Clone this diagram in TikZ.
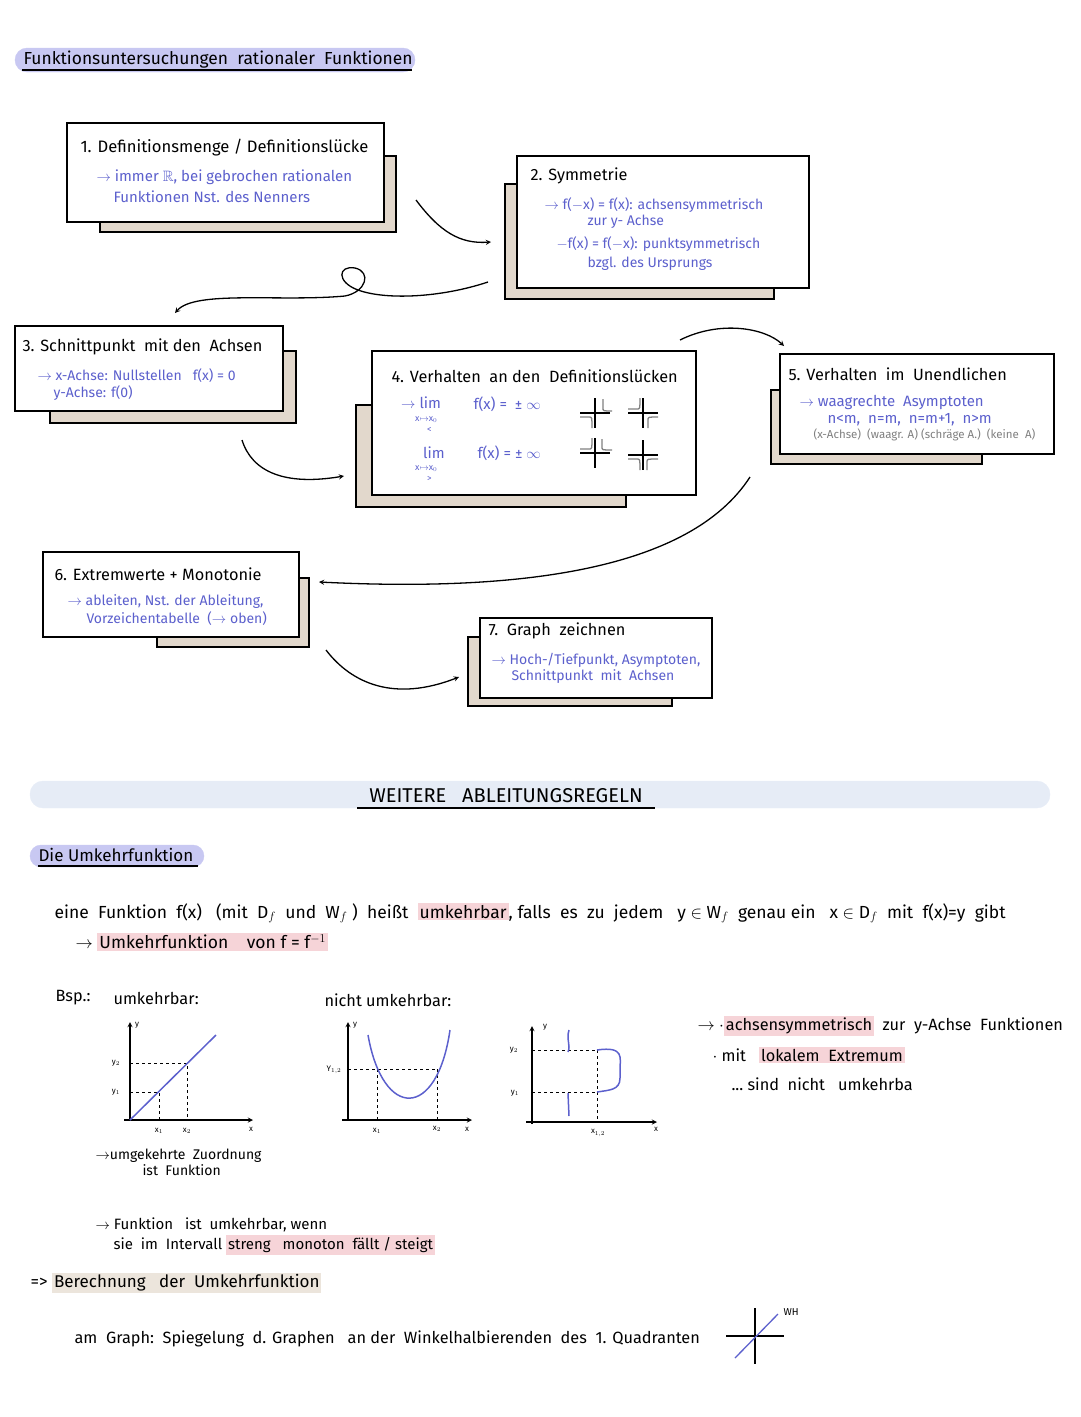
\documentclass[tikz,border=0pt]{standalone}
\usepackage{amsmath,amssymb}
\usepackage{fontspec}
\setmainfont{Fira Sans}
\usepackage{tikz}
\usetikzlibrary{arrows}

\definecolor{penblue}{RGB}{92,96,205}
\definecolor{shadowbeige}{RGB}{226,216,204}
\definecolor{lavender}{RGB}{200,200,242}
\definecolor{pinkhl}{RGB}{246,212,216}
\definecolor{beigehl}{RGB}{236,229,220}
\definecolor{bannerblue}{RGB}{230,236,246}
\newcommand{\hlpink}[1]{{\setlength{\fboxsep}{2pt}\colorbox{pinkhl}{#1}}}
\newcommand{\hlbeige}[1]{{\setlength{\fboxsep}{2pt}\colorbox{beigehl}{#1}}}

\begin{document}
\begin{tikzpicture}[x=1pt,y=-1pt,
    frontbox/.style={fill=white,draw=black,line width=1.6pt},
    shadowbox/.style={fill=shadowbeige,draw=black,line width=1.6pt},
    boxtitle/.style={anchor=west,font=\fontsize{16.3}{19}\selectfont},
    pen/.style={anchor=west,text=penblue,font=\fontsize{15}{17}\selectfont},
    smallpen/.style={anchor=west,text=penblue,font=\fontsize{14}{16}\selectfont},
    subpen/.style={anchor=west,text=penblue,inner sep=1pt,font=\fontsize{9}{10}\selectfont},
    faint/.style={anchor=west,text=gray,font=\fontsize{11.5}{13}\selectfont},
    plain/.style={anchor=west,font=\fontsize{16.3}{19}\selectfont},
    axlabel/.style={font=\fontsize{8}{9}\selectfont},
    flow/.style={line width=1.3pt,-stealth},
    axis/.style={line width=1.3pt,-stealth},
    guide/.style={dashed,line width=0.9pt},
    branch/.style={gray,line width=1.3pt}]
          \useasboundingbox (0,0) rectangle (1080,1417);
          % header
          \filldraw[lavender,rounded corners=12pt] (15,48) rectangle (415,72);
          \node[boxtitle,font=\fontsize{17.4}{20}\selectfont] (hdr) at (20,60) {Funktionsuntersuchungen\ \ rationaler\ \ Funktionen};
          \draw[line width=1.2pt] (22,70) -- (412,70);
          % 1. Definitionsmenge
          \filldraw[shadowbox] (100,156) rectangle (396,232);
          \filldraw[frontbox] (67,123) rectangle (384,222);
          \node[boxtitle,font=\fontsize{16.6}{19}\selectfont] (def) at (77,148) {1. Definitionsmenge / Definitionslücke};
          \node[pen] (defa) at (93,177) {$\rightarrow$ immer $\mathbb{R}$, bei gebrochen rationalen};
          \node[pen] (defb) at (110,197) {Funktionen Nst. des Nenners};
          % 2. Symmetrie
          \filldraw[shadowbox] (505,184) rectangle (774,299);
          \filldraw[frontbox] (517,156) rectangle (809,288);
          \node[boxtitle] (sym) at (527,176) {2. Symmetrie};
          \node[smallpen] (syma) at (541,205) {$\rightarrow$ f($-$x) = f(x): achsensymmetrisch};
          \node[smallpen] (symb) at (584,222) {zur y- Achse};
          \node[smallpen] (symc) at (553,244) {$-$f(x) = f($-$x): punktsymmetrisch};
          \node[smallpen] (symd) at (584,264) {bzgl. des Ursprungs};
          % 3. Schnittpunkt
          \filldraw[shadowbox] (50,351) rectangle (296,423);
          \filldraw[frontbox] (15,326) rectangle (283,411);
          \node[boxtitle] (schn) at (19,347) {3. Schnittpunkt\ \ mit den\ \ Achsen};
          \node[smallpen] (schna) at (34,376) {$\rightarrow$ x-Achse: Nullstellen\ \ \ f(x) = 0};
          \node[smallpen] (schnb) at (50,393) {y-Achse: f(0)};
          % 4. Definitionsluecken
          \filldraw[shadowbox] (356,405) rectangle (626,507);
          \filldraw[frontbox] (372,351) rectangle (696,495);
          \node[boxtitle] (luck) at (388,376) {4. Verhalten\ \ an den\ \ Definitionslücken};
          \node[pen,inner sep=1pt] (lima) at (400,403) {$\rightarrow$ lim};
          \node[subpen] (limasub) at (414,420) {x$\mapsto$x$_0$};
          \node[subpen] (limalt) at (426,430) {<};
          \node[pen] (limaf) at (470,404) {f(x) =\ \ ± $\infty$};
          \node[pen,inner sep=1pt] (limb) at (422,453) {lim};
          \node[subpen] (limbsub) at (414,469) {x$\mapsto$x$_0$};
          \node[subpen] (limbgt) at (426,479) {>};
          \node[pen] (limbf) at (474,453) {f(x) = ± $\infty$};
          \foreach \cx/\cy in {595/413,643/413,595/453,643/455}
            \draw[line width=1.6pt] (\cx-15,\cy) -- (\cx+15,\cy) (\cx,\cy-15) -- (\cx,\cy+15);
          \draw[branch] (603,399) -- (603,408) .. controls (603,411) .. (612,411);
          \draw[branch] (580,417) -- (589,417) .. controls (592,417) .. (592,428);
          \draw[branch] (628,409) -- (637,409) .. controls (640,409) .. (640,398);
          \draw[branch] (648,428) -- (648,420) .. controls (648,417) .. (658,417);
          \draw[branch] (580,449) -- (589,449) .. controls (592,449) .. (592,438);
          \draw[branch] (602,439) -- (602,447) .. controls (602,450) .. (612,450);
          \draw[branch] (628,459) -- (637,459) .. controls (640,459) .. (640,470);
          \draw[branch] (647,470) -- (647,462) .. controls (647,459) .. (658,459);
          % 5. Unendlichen
          \filldraw[shadowbox] (771,390) rectangle (982,464);
          \filldraw[frontbox] (780,354) rectangle (1054,454);
          \node[boxtitle] (inf) at (785,374) {5. Verhalten\ \ im\ \ Unendlichen};
          \node[pen] (infa) at (796,402) {$\rightarrow$ waagrechte\ \ Asymptoten};
          \node[pen] (infb) at (824,420) {n<m,\ \ n=m,\ \ n=m+1,\ \ n>m};
          \node[faint] (infc) at (810,435) {(x-Achse)\ \ (waagr. A) (schräge A.)\ \ (keine\ \ A)};
          % 6. Extremwerte
          \filldraw[shadowbox] (157,578) rectangle (309,647);
          \filldraw[frontbox] (43,552) rectangle (299,637);
          \node[boxtitle] (ext) at (51,574) {6. Extremwerte + Monotonie};
          \node[smallpen] (exta) at (64,602) {$\rightarrow$ ableiten, Nst. der Ableitung,};
          \node[smallpen] (extb) at (83,619) {Vorzeichentabelle\ \ ($\rightarrow$ oben)};
          % 7. Graph
          \filldraw[shadowbox] (468,637) rectangle (672,706);
          \filldraw[frontbox] (480,618) rectangle (712,698);
          \node[boxtitle] (graph) at (485,631) {7.\ \ Graph\ \ zeichnen};
          \node[smallpen] (grapha) at (488,660) {$\rightarrow$ Hoch-/Tiefpunkt, Asymptoten,};
          \node[smallpen] (graphb) at (508,677) {Schnittpunkt\ \ mit\ \ Achsen};
          % connectors
          \coordinate (c1s) at (416,200); \coordinate (c1e) at (491,242);
          \coordinate (c2s) at (488,282); \coordinate (c2e) at (175,313);
          \coordinate (c3s) at (242,440); \coordinate (c3e) at (344,476);
          \coordinate (c4s) at (680,340); \coordinate (c4e) at (784,346);
          \coordinate (c5s) at (750,477); \coordinate (c5e) at (319,582);
          \coordinate (c6s) at (326,650); \coordinate (c6e) at (459,677);
          \draw[flow] (c1s) .. controls (440,232) and (460,244) .. (c1e);
          \draw[flow] (c2s) .. controls (440,298) and (385,300) .. (358,290)
            .. controls (336,282) and (338,265) .. (355,268)
            .. controls (372,272) and (366,292) .. (345,296)
            .. controls (280,302) and (195,290) .. (c2e);
          \draw[flow] (c3s) .. controls (252,472) and (285,486) .. (c3e);
          \draw[flow] (c4s) .. controls (720,320) and (765,328) .. (c4e);
          \draw[flow] (c5s) .. controls (690,570) and (520,592) .. (c5e);
          \draw[flow] (c6s) .. controls (352,684) and (395,702) .. (c6e);
          % Weitere Ableitungsregeln
          \filldraw[bannerblue,rounded corners=13pt] (30,781) rectangle (1050,808);
          \node[boxtitle,anchor=center,font=\fontsize{20}{23}\selectfont] (rules) at (506,796) {WEITERE\ \ \ ABLEITUNGSREGELN};
          \draw[line width=1.2pt] (357,808) -- (655,808);
          \filldraw[lavender,rounded corners=11pt] (30,845) rectangle (204,867);
          \node[plain,font=\fontsize{17}{20}\selectfont] (umk) at (35,855) {Die Umkehrfunktion};
          \draw[line width=1.2pt] (38,866) -- (198,866);
          \node[plain,font=\fontsize{17.5}{20}\selectfont] (defumk) at (51,913) {eine\ \ Funktion\ \ f(x)\ \ \ (mit\ \ D$_f$\ \ und\ \ W$_f$ )\ \ heißt\ \ \hlpink{umkehrbar}, falls\ \ es\ \ zu\ \ jedem\ \ \ y $\in$ W$_f$\ \ genau ein\ \ \ x $\in$ D$_f$\ \ mit\ \ f(x)=y\ \ gibt};
          \node[plain,font=\fontsize{17.5}{20}\selectfont] (inv) at (72,942) {$\rightarrow$ \hlpink{Umkehrfunktion\ \ \ \ von f = f$^{-1}$}};
          \node[plain] (bsp) at (52,998) {Bsp.:};
          \node[plain] (yes) at (110,998) {umkehrbar:};
          \node[plain] (no) at (321,1000) {nicht umkehrbar:};
          % graph: umkehrbar
          \draw[axis] (130,1120) -- (130,1022);
          \draw[axis] (124,1120) -- (253,1120);
          \draw[guide] (130,1063) -- (187,1063) -- (187,1120);
          \draw[guide] (130,1092) -- (159,1092) -- (159,1120);
          \draw[penblue,line width=1.5pt] (130,1120) -- (216,1035);
          \node[axlabel] (ya) at (137,1025) {y};
          \node[axlabel] (ya2) at (116,1063) {y$_2$};
          \node[axlabel] (ya1) at (116,1092) {y$_1$};
          \node[axlabel] (xa1) at (159,1131) {x$_1$};
          \node[axlabel] (xa2) at (187,1131) {x$_2$};
          \node[axlabel] (xa) at (251,1129) {x};
          \node[plain,font=\fontsize{14}{16}\selectfont] (rev) at (92,1156) {$\rightarrow$umgekehrte\ \ Zuordnung};
          \node[plain,font=\fontsize{14}{16}\selectfont] (revb) at (139,1170) {ist\ \ Funktion};
          % graph: parabola
          \draw[axis] (348,1120) -- (348,1022);
          \draw[axis] (342,1120) -- (472,1120);
          \draw[guide] (348,1069) -- (437,1069);
          \draw[guide] (377,1069) -- (377,1120) (437,1069) -- (437,1120);
          \draw[penblue,line width=1.5pt] (368,1035) .. controls (383,1120) and (437,1120) .. (450,1030);
          \node[axlabel] (yb) at (355,1025) {y};
          \node[axlabel] (yb12) at (334,1070) {Y$_{1,2}$};
          \node[axlabel] (xb1) at (377,1131) {x$_1$};
          \node[axlabel] (xb2) at (437,1129) {x$_2$};
          \node[axlabel] (xb) at (467,1129) {x};
          % graph: no function
          \draw[axis] (532,1124) -- (532,1026);
          \draw[axis] (526,1122) -- (657,1122);
          \draw[guide] (532,1050) -- (597,1050) (532,1092) -- (597,1092);
          \draw[guide] (597,1050) -- (597,1122);
          \draw[penblue,line width=1.5pt] (569,1030) .. controls (566,1040) and (571,1045) .. (568,1052);
          \draw[penblue,line width=1.5pt] (597,1050) .. controls (625,1046) and (620,1058) .. (620,1070)
            -- (620,1078) .. controls (620,1090) and (610,1090) .. (597,1092);
          \draw[penblue,line width=1.5pt] (568,1093) -- (569,1116);
          \node[axlabel] (yc) at (545,1027) {y};
          \node[axlabel] (yc2) at (514,1050) {y$_2$};
          \node[axlabel] (yc1) at (515,1093) {y$_1$};
          \node[axlabel] (xc12) at (598,1133) {x$_{1,2}$};
          \node[axlabel] (xc) at (656,1129) {x};
          % remarks
          \node[plain] (rema) at (694,1026) {$\rightarrow$ $\cdot$\hlpink{achsensymmetrisch}\ \ zur\ \ y-Achse\ \ Funktionen};
          \node[plain] (remb) at (709,1055) {$\cdot$ mit\ \ \ \hlpink{lokalem\ \ Extremum}};
          \node[plain] (remc) at (728,1084) {...\ sind\ \ nicht\ \ \ umkehrba};
          \node[plain,font=\fontsize{15}{17}\selectfont] (mono) at (92,1225) {$\rightarrow$ Funktion\ \ \ ist\ \ umkehrbar, wenn};
          \node[plain,font=\fontsize{15}{17}\selectfont] (monob) at (110,1245) {sie\ \ im\ \ Intervall \hlpink{streng\ \ \ monoton\ \ fällt / steigt}};
          \node[plain,font=\fontsize{17}{20}\selectfont] (calc) at (27,1283) {=> \hlbeige{Berechnung\ \ \ der\ \ Umkehrfunktion}};
          \node[plain] (mirror) at (71,1339) {am\ \ Graph:\ \ Spiegelung\ \ d. Graphen\ \ \ an der\ \ Winkelhalbierenden\ \ des\ \ 1. Quadranten};
          \draw[line width=1.4pt] (726,1336) -- (784,1336) (755,1308) -- (755,1364);
          \draw[penblue,line width=1.3pt] (735,1358) -- (778,1314);
          \node[axlabel,anchor=west,font=\fontsize{10}{11}\selectfont] (wh) at (780,1312) {WH};
\end{tikzpicture}
\end{document}
